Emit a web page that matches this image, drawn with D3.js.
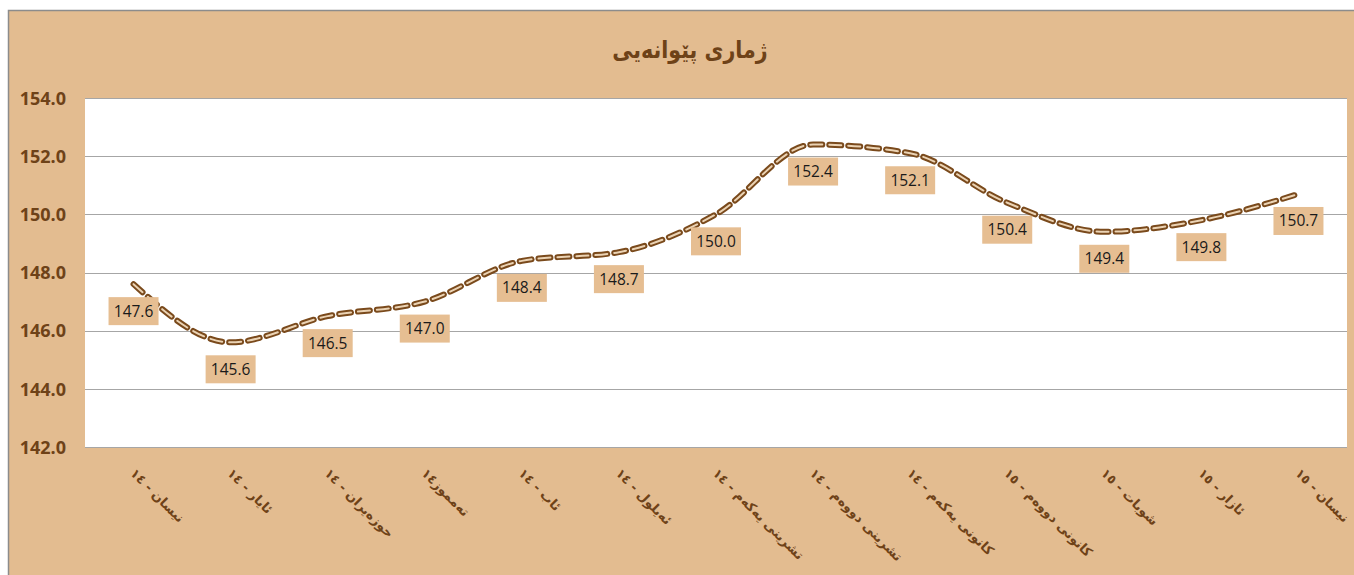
<!DOCTYPE html>
<html>
<head>
<meta charset="utf-8">
<script src="https://cdn.jsdelivr.net/npm/d3@7"></script>
<style>
  html, body { margin: 0; padding: 0; background: #ffffff; }
  svg { display: block; }
</style>
</head>
<body>
<svg id="chart" width="1354" height="575"></svg>
<script>
const title = "ژماری پێوانەیی";
const categories = [
  "نیسان - ١٤", "ئایار - ١٤", "حوزەیران - ١٤", "تەمموز١٤", "ئاب - ١٤",
  "ئەیلول - ١٤", "تشرینی یەکەم - ١٤", "تشرینی دووەم - ١٤", "کانونی یەکەم - ١٤",
  "کانونی دووەم - ١٥", "شوبات - ١٥", "ئازار - ١٥", "نیسان - ١٥"
];
const values = [147.6, 145.6, 146.5, 147.0, 148.4, 148.7, 150.0, 152.4, 152.1, 150.4, 149.4, 149.8, 150.7];
const yTicks = [142, 144, 146, 148, 150, 152, 154];

const W = 1354, H = 575;
const bg = "#E3BC90";
const brown = "#6E4218";
const svg = d3.select("#chart");

// outer chart area
svg.append("rect").attr("x", 8.5).attr("y", 10.5).attr("width", W + 10).attr("height", H + 10)
  .attr("fill", bg).attr("stroke", "#8c8c8c").attr("stroke-width", 1.5);

const plot = { left: 85, right: 1347, top: 98, bottom: 447 };

const x = d3.scaleBand().domain(categories).range([plot.left, plot.right]);
const y = d3.scaleLinear().domain([142, 154]).range([plot.bottom, plot.top]);

svg.append("rect").attr("x", plot.left).attr("y", plot.top)
  .attr("width", plot.right - plot.left).attr("height", plot.bottom - plot.top)
  .attr("fill", "#ffffff");

// gridlines
svg.append("g").selectAll("line").data(yTicks).join("line")
  .attr("x1", plot.left).attr("x2", plot.right)
  .attr("y1", d => Math.round(y(d)) + 0.5).attr("y2", d => Math.round(y(d)) + 0.5)
  .attr("stroke", "#a6a6a6").attr("stroke-width", 1.2);

// y axis
const yAxis = d3.axisLeft(y).tickValues(yTicks).tickFormat(d3.format(".1f")).tickSize(0).tickPadding(0);
const gy = svg.append("g").attr("transform", `translate(66,0)`).call(yAxis);
gy.select(".domain").remove();
gy.selectAll("text")
  .attr("font-family", "'Open Sans', 'DejaVu Sans', sans-serif")
  .attr("font-weight", "bold").attr("font-size", 18).attr("fill", brown)
  .attr("dy", "0.35em");

// x axis labels
const xAxis = d3.axisBottom(x).tickSize(0).tickPadding(0);
const gx = svg.append("g").attr("transform", `translate(0,${plot.bottom})`).call(xAxis);
gx.select(".domain").remove();
gx.selectAll("text")
  .attr("font-family", "'DejaVu Sans', sans-serif")
  .attr("font-weight", "bold").attr("font-size", 13).attr("fill", brown)
  .attr("text-anchor", "start")
  .attr("y", 0).attr("dy", 0)
  .attr("transform", "translate(-4,27) rotate(45)");

// title
svg.append("text").attr("transform", "translate(690,58) scale(0.86,1)").attr("text-anchor", "middle")
  .attr("font-family", "'DejaVu Sans', sans-serif").attr("font-weight", "bold")
  .attr("font-size", 24).attr("fill", brown).text(title);

// line
const pts = values.map((v, i) => [x(categories[i]) + x.bandwidth() / 2, y(v)]);
const line = d3.line().curve(d3.curveMonotoneX);
svg.append("path").attr("d", line(pts)).attr("fill", "none")
  .attr("stroke", "#7A4A1C").attr("stroke-width", 6).attr("stroke-dasharray", "12 7")
  .attr("stroke-linecap", "round");
svg.append("path").attr("d", line(pts)).attr("fill", "none")
  .attr("stroke", "#EBD3B4").attr("stroke-width", 2).attr("stroke-dasharray", "12 7")
  .attr("stroke-linecap", "round");

// data labels
const lbl = svg.append("g").selectAll("g").data(values).join("g")
  .attr("transform", (d, i) => `translate(${pts[i][0]},${pts[i][1] + 27})`);
lbl.append("rect").attr("x", -25).attr("y", -14).attr("width", 50).attr("height", 28)
  .attr("fill", "#E6BE92");
lbl.append("text").attr("text-anchor", "middle").attr("dy", "0.35em")
  .attr("font-family", "'Open Sans', sans-serif").attr("font-size", 15.5).attr("fill", "#1a1a1a")
  .text(d => d3.format(".1f")(d));
</script>
</body>
</html>
